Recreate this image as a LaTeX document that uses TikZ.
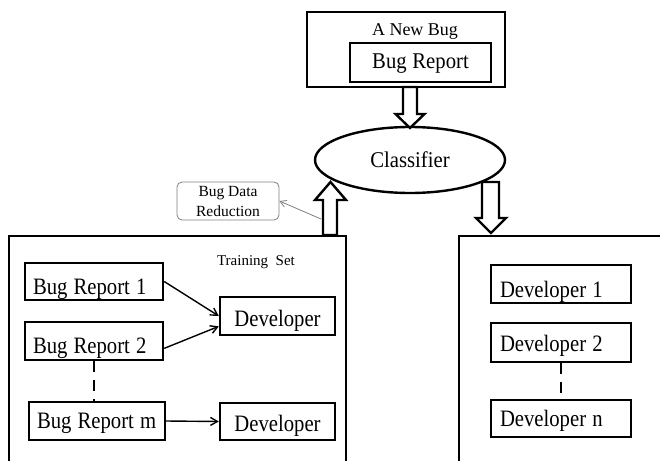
\documentclass[tikz,border=0pt]{standalone}
\usepackage{fontspec}
\setmainfont{Liberation Serif}
\newfontfamily\condfont[FakeStretch=0.88,WordSpace=1.2]{Liberation Serif}
\newfontfamily\semifont[FakeStretch=0.92,WordSpace=1.1]{Liberation Serif}
\usetikzlibrary{shapes.geometric,arrows.meta,calc}
\newcommand{\lft}[2]{\makebox[#1][l]{#2}}
\begin{document}
\begin{tikzpicture}[x=1pt,y=-1pt,
  big/.style={font=\condfont\fontsize{23.5}{27}\selectfont},
  box/.style={draw,line width=2.4pt,inner sep=0pt,big,text depth=0pt},
  lbox/.style={box,inner xsep=8pt},
  outer/.style={draw,line width=2pt,inner sep=0pt},
  hollow/.style={draw,line width=2.4pt,line join=miter},
  conn/.style={line width=1.4pt,-{Straight Barb[length=7pt,width=8pt,line width=1.4pt]}},
  dashline/.style={line width=2.4pt,dash pattern=on 11pt off 8pt},
  small/.style={font=\fontsize{15.5}{20}\selectfont}]
\useasboundingbox (0,0) rectangle (660,460);
\clip (0,0) rectangle (660,460);
\fill[white] (0,0) rectangle (660,460);

% top
\node[outer,line width=2.4pt,minimum width=198pt,minimum height=75pt] (newbug) at (406,49.5) {};
\node[font=\fontsize{18}{22}\selectfont,anchor=base] (nbt) at (415,36) {A New Bug};
\node[box,font=\semifont\fontsize{22.5}{26}\selectfont,text height=11.6pt,minimum width=141pt,minimum height=39pt] (br) at (420.5,62.5) {Bug Report};
\node[ellipse,draw,line width=2.4pt,inner sep=0pt,font=\semifont\fontsize{22.5}{26}\selectfont,
      text height=14pt,text depth=0pt,minimum width=190pt,minimum height=66pt] (cls) at (410,160) {Classifier};

% bug data reduction
\node[draw=gray,rounded corners=5pt,line width=0.8pt,minimum width=102pt,minimum height=38pt,
      inner sep=0pt,align=center,small] (bdr) at (228,201) {Bug Data\\Reduction};

% training set
\node[outer,minimum width=337pt,minimum height=260pt,anchor=north west] (train) at (8,235) {};
\node[font=\fontsize{15}{18}\selectfont,anchor=base] (ts) at (256,265.7) {Training\ \ Set};
\node[lbox,minimum height=37pt,text height=25pt] (br1) at (94,281.5) {\lft{122pt}{Bug Report 1}};
\node[lbox,minimum height=38pt,text height=25pt] (br2) at (94,341) {\lft{122pt}{Bug Report 2}};
\node[lbox,minimum height=38pt,text height=14pt] (brm) at (97,421) {\lft{120pt}{Bug Report m}};
\node[box,minimum width=115pt,minimum height=38pt,text height=21pt] (devA) at (277.5,316) {Developer};
\node[box,minimum width=115pt,minimum height=37pt,text height=20.6pt] (devB) at (277.5,421.5) {Developer};

% developers
\node[outer,minimum width=260pt,minimum height=260pt,anchor=north west] (devs) at (458,235) {};
\node[lbox,inner xsep=9pt,minimum height=38pt,text height=26.6pt] (d1) at (561,284) {\lft{122pt}{Developer 1}};
\node[lbox,inner xsep=9pt,minimum height=39pt,text height=18.4pt] (d2) at (561,342.5) {\lft{122pt}{Developer 2}};
\node[lbox,inner xsep=9pt,minimum height=37pt,text height=16pt] (dn) at (561,418.5) {\lft{122pt}{Developer n}};

% connectors
\draw[conn] (br1.east) -- (devA.west);
\draw[conn] (br2.-6) -- (devA.190);
\draw[conn] (brm.east) -- (devB.west);
\draw[dashline] (br2.south) -- (br2.south |- brm.north);
\draw[dashline] (d2.south) -- (dn.north);

% hollow block arrows
\draw[hollow] (403,87) -- (403,114) -- (395.5,114) -- (410,128) -- (424.5,114) -- (417,114) -- (417,87) -- cycle;
\draw[hollow] (323,235) -- (323,200) -- (315,200) -- (330.5,182) -- (346,200) -- (337,200) -- (337,235) -- cycle;
\draw[hollow] (482,182) -- (482,218) -- (476,218) -- (491,233) -- (506,218) -- (499,218) -- (499,182) -- cycle;

\coordinate (ua) at (321,219);
\draw[gray,line width=0.8pt,-{Straight Barb[length=6pt,width=7pt]}] (ua) -- (bdr.east);
\end{tikzpicture}
\end{document}
